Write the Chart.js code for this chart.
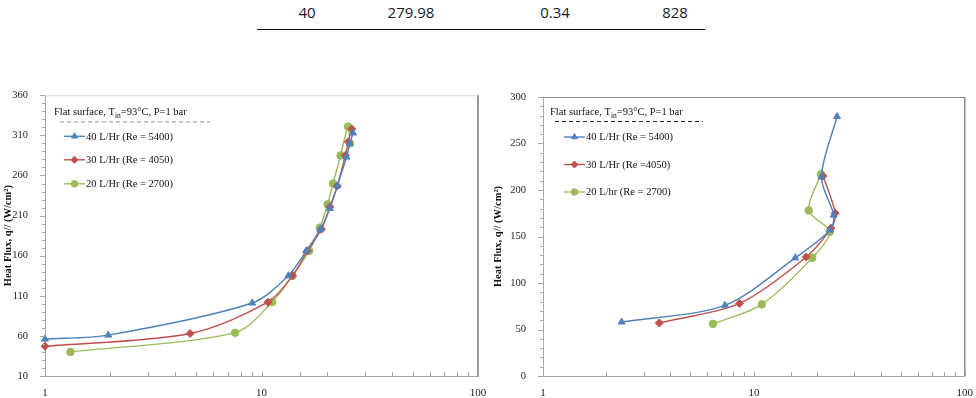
<!DOCTYPE html>
<html>
<head>
<meta charset="utf-8">
<script src="https://cdn.jsdelivr.net/npm/chart.js@4.4.1/dist/chart.umd.min.js"></script>
<style>
  html, body { margin: 0; padding: 0; background: #fff; }
  body { width: 976px; height: 398px; position: relative; overflow: hidden; }
  .cell { position: absolute; top: 2px; font-family: "Open Sans", sans-serif; font-size: 15px; color: #1a1a1a; transform: translateX(-50%); white-space: nowrap; }
  #rule { position: absolute; left: 257px; top: 29px; width: 448px; height: 0; border-top: 1.3px solid #111; }
  canvas { position: absolute; }
</style>
</head>
<body>
<div id="row"></div>
<div id="rule"></div>
<canvas id="c1" width="490" height="318" style="left:0;top:80px"></canvas>
<canvas id="c2" width="486" height="318" style="left:490px;top:80px"></canvas>
<script>
// ---- table row ----
const tableRow = ["40", "279.98", "0.34", "828"];

// ---- axes ----
const xLabelValues = [1, 10, 100];
const yTicksLeft = [10, 60, 110, 160, 210, 260, 310, 360];
const yTicksRight = [0, 50, 100, 150, 200, 250, 300];
const yTitle = "Heat Flux, q// (W/cm\u00B2)";

// ---- series names ----
const namesLeft = ["40 L/Hr (Re = 5400)", "30 L/Hr (Re = 4050)", "20 L/Hr (Re = 2700)"];
const namesRight = ["40 L/Hr (Re = 5400)", "30 L/Hr (Re =4050)", "20 L/hr (Re = 2700)"];

// ---- left chart data ----
const L40x = [1.0, 1.96, 9.06, 13.3, 16.1, 18.7, 20.7, 22.4, 24.7, 25.6, 26.5];
const L40y = [56, 61, 101, 135, 166, 193, 219, 247, 283, 300, 313];
const L30x = [1.0, 4.68, 10.7, 13.9, 16.3, 18.9, 20.7, 22.4, 24.4, 25.2, 26.1];
const L30y = [47, 63, 102, 135, 166, 193, 221, 247, 285, 302, 318];
const L20x = [1.31, 7.56, 11.2, 13.9, 16.6, 18.6, 20.2, 21.4, 23.2, 25.1, 25.6];
const L20y = [40, 64, 102, 135, 166, 195, 224, 250, 285, 321, 300];

// ---- right chart data ----
const R40x = [2.36, 7.29, 15.7, 23.0, 23.9, 20.9, 24.8];
const R40y = [58, 76, 127, 157, 173, 214, 279];
const R30x = [3.56, 8.54, 17.7, 23.2, 24.3, 21.3];
const R30y = [57, 78, 128, 159, 175, 215];
const R20x = [6.4, 10.9, 18.9, 22.9, 18.2, 20.8];
const R20y = [56, 77, 127, 155, 178, 217];

const BLUE = "#4F81BD", RED = "#C0504D", GREEN = "#9BBB59";
const SERIF = "'Liberation Serif', 'Times New Roman', serif";

// table row
const cellX = [307, 411, 555, 675];
tableRow.forEach((t, i) => {
  const d = document.createElement("div");
  d.className = "cell"; d.textContent = t; d.style.left = cellX[i] + "px";
  document.getElementById("row").appendChild(d);
});

function pts(xs, ys) { return xs.map((x, i) => ({ x: x, y: ys[i] })); }

function ds(label, xs, ys, color, style, r) {
  return {
    label: label, data: pts(xs, ys), showLine: true,
    borderColor: color, backgroundColor: color, borderWidth: 1.4,
    pointStyle: style, pointRadius: r, pointHoverRadius: r,
    pointBorderWidth: 1, tension: 0.3, clip: false
  };
}

function makeChart(id, cfg) {
  const frame = {
    id: "frame",
    afterDraw(chart) {
      const ctx = chart.ctx, a = chart.chartArea;
      const xs = chart.scales.x, ys = chart.scales.y;
      ctx.save();
      // top and right border
      ctx.strokeStyle = cfg.topColor; ctx.lineWidth = 1;
      ctx.beginPath(); ctx.moveTo(a.left, a.top + 0.5); ctx.lineTo(a.right, a.top + 0.5); ctx.stroke();
      ctx.strokeStyle = cfg.rightColor; ctx.lineWidth = cfg.rightWidth;
      ctx.beginPath(); ctx.moveTo(a.right, a.top); ctx.lineTo(a.right, a.bottom); ctx.stroke();
      // x minor ticks (inward)
      ctx.strokeStyle = "#a6a6a6"; ctx.lineWidth = 1;
      xs.ticks.forEach(t => {
        const p = Math.round(xs.getPixelForValue(t.value)) + 0.5;
        ctx.beginPath(); ctx.moveTo(p, a.bottom); ctx.lineTo(p, a.bottom - 4); ctx.stroke();
      });
      // y ticks (outward), minor every 10
      for (let v = ys.min; v <= ys.max + 0.01; v += 10) {
        const p = Math.round(ys.getPixelForValue(v)) + 0.5;
        const major = cfg.yTicks.indexOf(v) >= 0;
        ctx.beginPath(); ctx.moveTo(a.left, p); ctx.lineTo(a.left - (major ? 5 : 3), p); ctx.stroke();
      }
      // in-plot legend
      const lx = a.left + cfg.legendDx;
      ctx.fillStyle = "#111"; ctx.textBaseline = "alphabetic";
      ctx.font = "10.5px " + SERIF;
      let tx = lx, ty = a.top + cfg.titleDy;
      const p1 = "Flat surface, T", p2 = "in", p3 = "=93\u00B0C, P=1 bar";
      ctx.fillText(p1, tx, ty); tx += ctx.measureText(p1).width;
      ctx.font = "7.5px " + SERIF; ctx.fillText(p2, tx, ty + 2.5); tx += ctx.measureText(p2).width;
      ctx.font = "10.5px " + SERIF; ctx.fillText(p3, tx, ty);
      ctx.strokeStyle = cfg.dashColor; ctx.lineWidth = 1.2; ctx.setLineDash([4, 3]);
      ctx.beginPath(); ctx.moveTo(lx + cfg.dashX0, a.top + cfg.dashDy); ctx.lineTo(lx + cfg.dashX1, a.top + cfg.dashDy); ctx.stroke();
      ctx.setLineDash([]);
      chart.data.datasets.forEach((d, i) => {
        const y = a.top + cfg.entryDy[i];
        const x0 = lx + cfg.entryDx;
        ctx.strokeStyle = d.borderColor; ctx.lineWidth = 1.4;
        ctx.beginPath(); ctx.moveTo(x0, y); ctx.lineTo(x0 + 21, y); ctx.stroke();
        ctx.fillStyle = d.backgroundColor; ctx.strokeStyle = d.borderColor; ctx.lineWidth = 1;
        Chart.helpers.drawPoint(ctx, { pointStyle: d.pointStyle, radius: d.pointRadius - 0.5, borderWidth: 1, rotation: 0 }, x0 + 10.5, y);
        ctx.fillStyle = "#111"; ctx.font = "10.5px " + SERIF; ctx.textBaseline = "middle";
        ctx.fillText(d.label, x0 + 22, y + 0.5);
        ctx.textBaseline = "alphabetic";
      });
      ctx.restore();
    }
  };
  return new Chart(document.getElementById(id), {
    type: "scatter",
    data: { datasets: cfg.datasets },
    options: {
      responsive: false, animation: false, devicePixelRatio: 1,
      layout: { padding: { left: 0, top: cfg.padTop, right: cfg.padRight, bottom: 0 } },
      plugins: { legend: { display: false }, tooltip: { enabled: false } },
      scales: {
        x: {
          type: "logarithmic", min: 1, max: 100,
          grid: { display: false },
          border: { display: true, color: "#a6a6a6", width: 1 },
          afterFit: s => { s.height = cfg.xHeight; },
          ticks: {
            autoSkip: false, maxRotation: 0, padding: 3, color: "#222",
            font: { family: SERIF, size: 11 },
            callback: v => (xLabelValues.indexOf(v) >= 0 ? String(v) : "")
          }
        },
        y: {
          type: "linear", min: cfg.yMin, max: cfg.yMax,
          grid: { display: false },
          border: { display: true, color: "#a6a6a6", width: 1 },
          afterBuildTicks: s => { s.ticks = cfg.yTicks.map(v => ({ value: v })); },
          afterFit: s => { s.width = cfg.yWidth; },
          ticks: { padding: 9, color: "#222", font: { family: SERIF, size: 10.5 } },
          title: { display: true, text: yTitle, color: "#111", padding: { top: 2, bottom: 2 },
                   font: { family: SERIF, size: 10.5, weight: "bold" } }
        }
      }
    },
    plugins: [frame]
  });
}

makeChart("c1", {
  datasets: [
    ds(namesLeft[0], L40x, L40y, BLUE, "triangle", 4),
    ds(namesLeft[1], L30x, L30y, RED, "rectRot", 4),
    ds(namesLeft[2], L20x, L20y, GREEN, "circle", 3.8)
  ],
  yMin: 10, yMax: 360, yTicks: yTicksLeft,
  yWidth: 45, xHeight: 22, padTop: 15, padRight: 12,
  topColor: "#d4d4d4", rightColor: "#9a9a9a", rightWidth: 2,
  legendDx: 9, titleDy: 20, dashX0: 6, dashX1: 156, dashDy: 26.5,
  entryDx: 10, entryDy: [41, 64.5, 88.5], dashColor: "#aaaaaa"
});

makeChart("c2", {
  datasets: [
    ds(namesRight[0], R40x, R40y, BLUE, "triangle", 4),
    ds(namesRight[1], R30x, R30y, RED, "rectRot", 4),
    ds(namesRight[2], R20x, R20y, GREEN, "circle", 3.8)
  ],
  yMin: 0, yMax: 300, yTicks: yTicksRight,
  yWidth: 53, xHeight: 22, padTop: 17, padRight: 7,
  topColor: "#8c8c8c", rightColor: "#8c8c8c", rightWidth: 1.5,
  legendDx: 7, titleDy: 18, dashX0: 5, dashX1: 153, dashDy: 24.5,
  entryDx: 14, entryDy: [40, 67.5, 95], dashColor: "#222222"
});
</script>
</body>
</html>
